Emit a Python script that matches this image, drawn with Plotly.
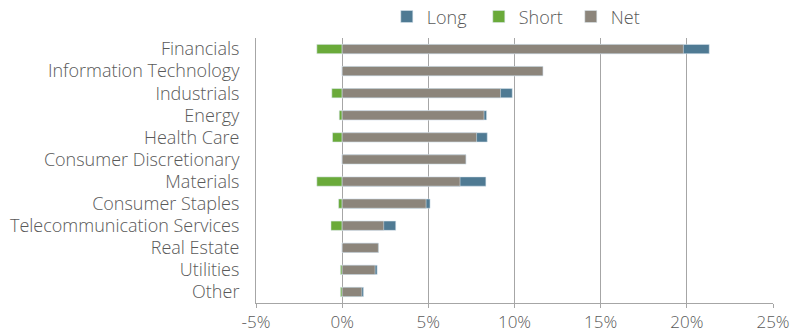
import plotly.graph_objects as go

categories = ["Financials", "Information Technology", "Industrials", "Energy", "Health Care",
              "Consumer Discretionary", "Materials", "Consumer Staples",
              "Telecommunication Services", "Real Estate", "Utilities", "Other"]
long_vals = [21.3, 11.65, 9.87, 8.38, 8.42, 7.18, 8.34, 5.1, 3.11, 2.1, 2.03, 1.24]
short_vals = [-1.47, 0.0, -0.6, -0.17, -0.56, 0.0, -1.47, -0.21, -0.65, 0.0, -0.1, -0.1]
net_vals = [19.8, 11.65, 9.19, 8.23, 7.8, 7.18, 6.84, 4.87, 2.41, 2.1, 1.91, 1.14]
tick_vals = [-5, 0, 5, 10, 15, 20, 25]
tick_text = ["-5%", "0%", "5%", "10%", "15%", "20%", "25%"]

edge = dict(color="rgba(220,230,238,0.9)", width=0.6)
fig = go.Figure()
fig.add_trace(go.Bar(name="Long", y=categories, x=long_vals, orientation="h",
                     marker=dict(color="#4F7A93", line=edge), width=0.42))
fig.add_trace(go.Bar(name="Short", y=categories, x=short_vals, orientation="h",
                     marker=dict(color="#6AAA3A", line=edge), width=0.42))
fig.add_trace(go.Bar(name="Net", y=categories, x=net_vals, orientation="h",
                     marker=dict(color="#8C857B", line=edge), width=0.42))

font = dict(family="Open Sans", size=16, color="#595959", weight=300)
fig.update_layout(
    width=795, height=332, barmode="overlay",
    margin=dict(l=256, r=22, t=38, b=29, autoexpand=False),
    paper_bgcolor="white", plot_bgcolor="white",
    font=font,
    legend=dict(orientation="h", x=0.253, xanchor="left", y=1.08, yanchor="middle",
                font=dict(font, size=18), entrywidth=47, entrywidthmode="pixels",
                itemwidth=30, tracegroupgap=0, traceorder="normal"),
    xaxis=dict(range=[-5, 25], tickvals=tick_vals, ticktext=tick_text,
               showgrid=True, gridcolor="#A6A6A6", gridwidth=1,
               zeroline=True, zerolinecolor="#A6A6A6", zerolinewidth=1,
               showline=True, linecolor="#A6A6A6", linewidth=1,
               ticks="outside", tickcolor="#A6A6A6", ticklen=4, tickfont=dict(font, size=17)),
    yaxis=dict(autorange="reversed", showgrid=False, showline=True,
               linecolor="#A6A6A6", linewidth=1,
               ticks="", ticklabelstandoff=12, tickfont=dict(font, size=18)),
)
fig.write_html("out.html")
